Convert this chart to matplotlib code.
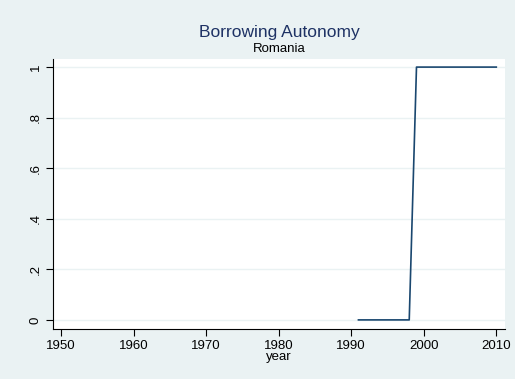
import matplotlib.pyplot as plt

plt.rcParams['font.family'] = ['Liberation Sans', 'DejaVu Sans']

years = [1991, 1992, 1993, 1994, 1995, 1996, 1997, 1998, 1999, 2000,
         2001, 2002, 2003, 2004, 2005, 2006, 2007, 2008, 2009, 2010]
autonomy = [0, 0, 0, 0, 0, 0, 0, 0, 1, 1,
            1, 1, 1, 1, 1, 1, 1, 1, 1, 1]

x_ticks = [1950, 1960, 1970, 1980, 1990, 2000, 2010]
y_ticks = [0, 0.2, 0.4, 0.6, 0.8, 1]
y_tick_labels = ["0", ".2", ".4", ".6", ".8", "1"]

bg = "#eaf2f3"
navy = "#1a476f"

fig = plt.figure(figsize=(5.15, 3.79), dpi=100, facecolor=bg)
ax = fig.add_axes([53 / 515, 1 - 329 / 379, 452 / 515, 270 / 379])
ax.set_facecolor("white")

ax.plot(years, autonomy, color=navy, lw=1.2)

ax.set_xlim(1948.9, 2011.2)
ax.set_ylim(-0.036, 1.032)

ax.set_xticks(x_ticks)
ax.set_yticks(y_ticks)
ax.set_yticklabels(y_tick_labels, rotation=90, va="center")
ax.tick_params(axis="both", labelsize=9.5, length=5, width=0.8, color="black", pad=3)
ax.grid(axis="y", color=bg, lw=1.0)
ax.set_axisbelow(True)

for side in ["top", "right"]:
    ax.spines[side].set_visible(False)
for side in ["left", "bottom"]:
    ax.spines[side].set_linewidth(0.8)

ax.set_xlabel("year", fontsize=9.5, labelpad=-1)

cx = 0.5 * (53 + 505) / 515
fig.text(cx, 1 - 33 / 379, "Borrowing Autonomy",
         ha="center", va="center", fontsize=12.5, color="#1e3264")
fig.text(cx, 1 - 49 / 379, "Romania",
         ha="center", va="center", fontsize=9.5, color="black")

fig.savefig("out.png", dpi=100, facecolor=bg)
